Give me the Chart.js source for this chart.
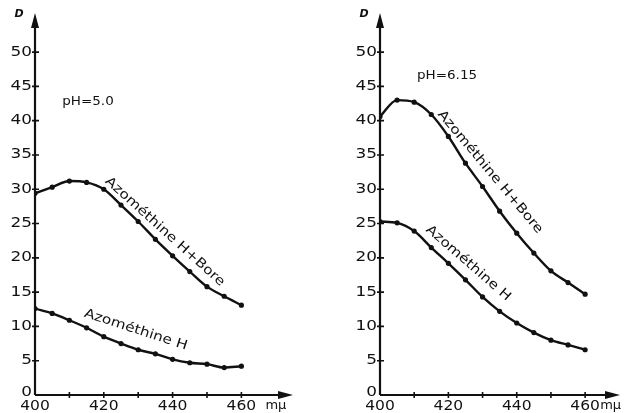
<!DOCTYPE html>
<html>
<head>
<meta charset="utf-8">
<script src="https://cdn.jsdelivr.net/npm/chart.js@4/dist/chart.umd.min.js"></script>
<style>
  html, body { margin: 0; padding: 0; background: #fff; }
  #wrap { position: relative; width: 626px; height: 413px; }
  canvas { position: absolute; top: 0; }
</style>
</head>
<body>
<div id="wrap">
  <canvas id="left" width="313" height="413" style="left:0"></canvas>
  <canvas id="right" width="313" height="413" style="left:313px"></canvas>
</div>
<script>
// wavelength (mμ)
var wavelengths = [400, 405, 410, 415, 420, 425, 430, 435, 440, 445, 450, 455, 460];

// pH = 5.0
var boreLow = [29.4, 30.3, 31.2, 31.0, 30.0, 27.7, 25.3, 22.7, 20.3, 18.0, 15.8, 14.4, 13.1];
var hLow    = [12.6, 11.9, 10.9, 9.8, 8.5, 7.5, 6.6, 6.0, 5.2, 4.7, 4.5, 4.0, 4.2];

// pH = 6.15
var boreHigh = [40.6, 43.0, 42.7, 40.9, 37.7, 33.8, 30.4, 26.8, 23.6, 20.7, 18.1, 16.4, 14.7];
var hHigh    = [25.3, 25.1, 23.9, 21.5, 19.2, 16.8, 14.3, 12.2, 10.5, 9.1, 8.0, 7.3, 6.6];

var yTicks = [0, 5, 10, 15, 20, 25, 30, 35, 40, 45, 50];
var xTicks = [400, 410, 420, 430, 440, 450, 460];
var xLabels = [400, 420, 440, 460];

var FONT = '"DejaVu Sans", sans-serif';

function txt(ctx, s, x, y, opt) {
  ctx.save();
  ctx.translate(x, y);
  if (opt.angle) ctx.rotate(opt.angle * Math.PI / 180);
  ctx.scale(opt.sx || 1, 1);
  ctx.font = opt.font || ('13px ' + FONT);
  ctx.fillStyle = '#111';
  ctx.textAlign = opt.align || 'center';
  ctx.textBaseline = 'middle';
  ctx.fillText(s, 0, 0);
  ctx.restore();
}

var axesPlugin = {
  id: 'handAxes',
  afterDraw: function (chart) {
    var o = chart.options.plugins.handAxes;
    var ctx = chart.ctx;
    var xs = chart.scales.x, ys = chart.scales.y;
    var x0 = xs.getPixelForValue(400), y0 = ys.getPixelForValue(0);
    var top = chart.chartArea.top, right = chart.chartArea.right;
    ctx.save();
    ctx.strokeStyle = '#111';
    ctx.fillStyle = '#111';
    ctx.lineWidth = 2.2;
    ctx.beginPath();
    ctx.moveTo(x0, y0); ctx.lineTo(x0, top + 8);
    ctx.moveTo(x0, y0); ctx.lineTo(right - 8, y0);
    ctx.stroke();
    // arrow heads
    ctx.beginPath();
    ctx.moveTo(x0, top); ctx.lineTo(x0 - 4, top + 15); ctx.lineTo(x0 + 4, top + 15); ctx.closePath();
    ctx.fill();
    ctx.beginPath();
    ctx.moveTo(right, y0); ctx.lineTo(right - 15, y0 - 4); ctx.lineTo(right - 15, y0 + 4); ctx.closePath();
    ctx.fill();
    // tick marks
    ctx.lineWidth = 1.6;
    ctx.beginPath();
    yTicks.forEach(function (v) {
      if (v === 0) return;
      var p = ys.getPixelForValue(v);
      ctx.moveTo(x0 - 3, p); ctx.lineTo(x0 + 4, p);
    });
    xTicks.forEach(function (v) {
      if (v === 400) return;
      var p = xs.getPixelForValue(v);
      ctx.moveTo(p, y0 - 3); ctx.lineTo(p, y0 + 3);
    });
    ctx.stroke();
    ctx.restore();
    // tick labels
    yTicks.forEach(function (v) {
      var p = ys.getPixelForValue(v);
      var dy = v === 0 ? -3 : 0;
      txt(ctx, String(v), x0 - 3, p + dy, { align: 'right', sx: 1.25, font: '13.5px ' + FONT });
    });
    xLabels.forEach(function (v) {
      var p = xs.getPixelForValue(v);
      txt(ctx, String(v), p, y0 + 11, { sx: 1.15, font: '13.5px ' + FONT });
    });
    var p460 = xs.getPixelForValue(460);
    txt(ctx, 'mμ', p460 + o.unitDx, y0 + 11, { align: 'left', font: '13px ' + FONT });
    txt(ctx, 'D', x0 - 16, top + 1, { font: 'italic bold 11px ' + FONT });
    // pH label
    txt(ctx, o.ph, xs.getPixelForValue(o.phAt[0]), ys.getPixelForValue(o.phAt[1]), { font: '12.5px ' + FONT, sx: 1.08 });
    // curve labels
    o.curveLabels.forEach(function (l) {
      txt(ctx, l.text, xs.getPixelForValue(l.at[0]), ys.getPixelForValue(l.at[1]),
        { angle: l.angle, sx: 1.18, font: '13px ' + FONT });
    });
  }
};

function series(vals) {
  return wavelengths.map(function (w, i) { return { x: w, y: vals[i] }; });
}

function makePanel(id, bore, h, cfg) {
  var ds = function (vals) {
    return {
      data: series(vals),
      borderColor: '#111',
      backgroundColor: '#111',
      borderWidth: 2.4,
      pointRadius: 1.4,
      pointHoverRadius: 0,
      cubicInterpolationMode: 'monotone',
      fill: false
    };
  };
  return new Chart(document.getElementById(id), {
    type: 'line',
    data: { datasets: [ds(bore), ds(h)] },
    options: {
      responsive: false,
      animation: false,
      events: [],
      layout: { padding: cfg.padding },
      plugins: {
        legend: { display: false },
        tooltip: { enabled: false },
        handAxes: cfg.axes
      },
      scales: {
        x: { type: 'linear', display: false, min: 400, max: cfg.xMax },
        y: { type: 'linear', display: false, min: 0, max: cfg.yMax }
      }
    },
    plugins: [axesPlugin]
  });
}

makePanel('left', boreLow, hLow, {
  padding: { left: 35, right: 20, top: 13, bottom: 18 },
  xMax: 475, yMax: 55.7,
  axes: {
    ph: 'pH=5.0', phAt: [415.4, 42.7], unitDx: 24,
    curveLabels: [
      { text: 'Azométhine H+Bore', at: [437.7, 23.8], angle: 42 },
      { text: 'Azométhine H', at: [429.3, 9.5], angle: 18 }
    ]
  }
});

makePanel('right', boreHigh, hHigh, {
  padding: { left: 67, right: 6, top: 13, bottom: 18 },
  xMax: 470.2, yMax: 55.7,
  axes: {
    ph: 'pH=6.15', phAt: [419.6, 46.6], unitDx: 15,
    curveLabels: [
      { text: 'Azométhine H+Bore', at: [432.2, 32.5], angle: 50 },
      { text: 'Azométhine H', at: [425.8, 19.2], angle: 41 }
    ]
  }
});
</script>
</body>
</html>
